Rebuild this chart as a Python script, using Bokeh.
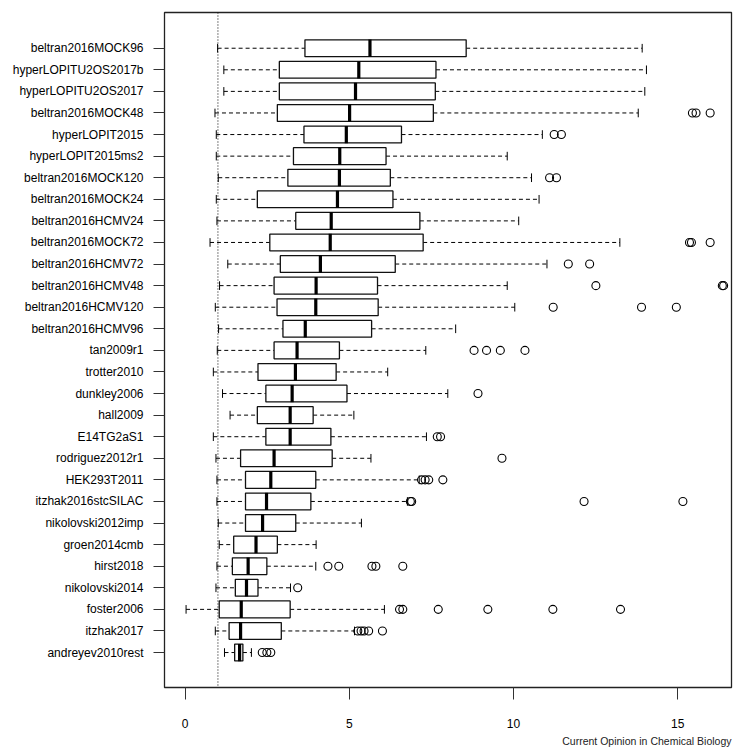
from bokeh.plotting import figure
from bokeh.models import Range1d, FixedTicker, Span, Title, ColumnDataSource
from bokeh.embed import file_html
from bokeh.resources import INLINE

# Datasets, top to bottom
names = ["beltran2016MOCK96", "hyperLOPITU2OS2017b", "hyperLOPITU2OS2017", "beltran2016MOCK48",
         "hyperLOPIT2015", "hyperLOPIT2015ms2", "beltran2016MOCK120", "beltran2016MOCK24",
         "beltran2016HCMV24", "beltran2016MOCK72", "beltran2016HCMV72", "beltran2016HCMV48",
         "beltran2016HCMV120", "beltran2016HCMV96", "tan2009r1", "trotter2010", "dunkley2006",
         "hall2009", "E14TG2aS1", "rodriguez2012r1", "HEK293T2011", "itzhak2016stcSILAC",
         "nikolovski2012imp", "groen2014cmb", "hirst2018", "nikolovski2014", "foster2006",
         "itzhak2017", "andreyev2010rest"]
whisk_lo = [0.99, 1.18, 1.18, 0.91, 0.95, 0.95, 1.01, 0.95, 0.97, 0.76, 1.30, 1.05, 0.92, 1.02,
            0.98, 0.86, 1.14, 1.37, 0.86, 0.94, 0.97, 0.97, 1.01, 1.04, 0.97, 0.94, 0.03, 0.92, 1.20]
q1 = [3.65, 2.87, 2.87, 2.81, 3.62, 3.30, 3.13, 2.20, 3.37, 2.58, 2.90, 2.71, 2.80, 2.98,
      2.71, 2.22, 2.46, 2.20, 2.46, 1.69, 1.84, 1.84, 1.84, 1.48, 1.44, 1.53, 1.04, 1.34, 1.51]
median = [5.63, 5.29, 5.19, 5.01, 4.91, 4.71, 4.70, 4.64, 4.45, 4.42, 4.12, 3.99, 3.98, 3.66,
          3.41, 3.36, 3.26, 3.20, 3.20, 2.71, 2.61, 2.48, 2.36, 2.16, 1.92, 1.87, 1.71, 1.69, 1.66]
q3 = [8.56, 7.64, 7.62, 7.56, 6.59, 6.12, 6.25, 6.33, 7.15, 7.25, 6.40, 5.86, 5.88, 5.68,
      4.70, 4.60, 4.93, 3.90, 4.44, 4.48, 3.98, 3.83, 3.37, 2.81, 2.49, 2.22, 3.20, 2.93, 1.76]
whisk_hi = [13.92, 14.05, 14.00, 13.80, 10.88, 9.81, 10.55, 10.78, 10.16, 13.24, 11.02, 9.81,
            10.04, 8.24, 7.33, 6.17, 8.00, 5.14, 7.35, 5.66, 7.13, 6.77, 5.37, 3.99, 3.98, 3.21,
            6.07, 5.16, 2.02]
outliers = [[], [], [], [15.45, 15.56, 15.99], [11.24, 11.46], [], [11.10, 11.31], [], [],
            [15.36, 15.42, 15.99], [11.67, 12.32], [12.51, 16.36, 16.40], [11.21, 13.90, 14.96], [],
            [8.80, 9.18, 9.60, 10.35], [], [8.92], [], [7.68, 7.78], [9.65],
            [7.20, 7.31, 7.42, 7.85], [6.86, 6.90, 12.15, 15.16], [], [],
            [4.35, 4.68, 5.69, 5.81, 6.63], [3.43], [6.53, 6.63, 7.71, 9.22, 11.20, 13.26],
            [5.26, 5.36, 5.45, 5.59, 6.01], [2.35, 2.49, 2.61]]
x_ticks = [0, 5, 10, 15]
ref_line = 1
caption = "Current Opinion in Chemical Biology"

n = len(names)
ypos = [n - i for i in range(n)]

p = figure(width=738, height=745, output_backend="svg", toolbar_location=None,
           x_range=Range1d(-0.627, 16.64), y_range=Range1d(-0.62, 30.655),
           frame_width=567, frame_height=675,
           min_border_left=164, min_border_right=7, min_border_top=12, min_border_bottom=58)
p.background_fill_color = "white"
p.border_fill_color = "white"
p.outline_line_color = "#222222"
p.outline_line_width = 1.3
p.grid.visible = False

src = ColumnDataSource(dict(y=ypos, lo=whisk_lo, q1=q1, med=median, q3=q3, hi=whisk_hi,
                            ylo=[y - 0.2 for y in ypos], yhi=[y + 0.2 for y in ypos],
                            bl=[y - 0.4 for y in ypos], bh=[y + 0.4 for y in ypos]))

p.add_layout(Span(location=ref_line, dimension="height", line_color="black",
                  line_dash="1 2", line_width=1))

p.segment(x0="lo", y0="y", x1="q1", y1="y", source=src, line_color="black",
          line_dash="4 3", line_width=1)
p.segment(x0="q3", y0="y", x1="hi", y1="y", source=src, line_color="black",
          line_dash="4 3", line_width=1)
p.segment(x0="lo", y0="ylo", x1="lo", y1="yhi", source=src, line_color="black", line_width=1)
p.segment(x0="hi", y0="ylo", x1="hi", y1="yhi", source=src, line_color="black", line_width=1)
p.hbar(y="y", left="q1", right="q3", height=0.78, source=src, fill_color="white",
       line_color="#111111", line_width=1.3)
p.segment(x0="med", y0="bl", x1="med", y1="bh", source=src, line_color="black", line_width=3.2)

ox, oy = [], []
for yv, outs in zip(ypos, outliers):
    for v in outs:
        ox.append(v)
        oy.append(yv)
p.scatter(ox, oy, marker="circle", size=8, fill_color=None, line_color="black", line_width=1.1)

xa = p.xaxis[0]
xa.ticker = FixedTicker(ticks=x_ticks)
xa.axis_line_color = None
xa.major_tick_in = 0
xa.major_tick_out = 12
xa.major_tick_line_color = "#333333"
xa.minor_tick_line_color = None
xa.major_label_standoff = 19
xa.major_label_text_font = "Liberation Sans"
xa.major_label_text_font_size = "12px"
xa.major_label_text_color = "black"

ya = p.yaxis[0]
ya.ticker = FixedTicker(ticks=ypos)
ya.major_label_overrides = {y: nm for y, nm in zip(ypos, names)}
ya.axis_line_color = None
ya.major_tick_in = 0
ya.major_tick_out = 11
ya.major_tick_line_color = "#333333"
ya.minor_tick_line_color = None
ya.major_label_standoff = 10
ya.major_label_text_font = "Liberation Sans"
ya.major_label_text_font_size = "12px"
ya.major_label_text_color = "black"

p.add_layout(Title(text=caption, align="right", text_font="Liberation Sans",
                   text_font_size="10.5px", text_font_style="normal", text_color="#222222",
                   standoff=4, offset=0), "below")

open("out.html", "w").write(file_html(p, INLINE))
